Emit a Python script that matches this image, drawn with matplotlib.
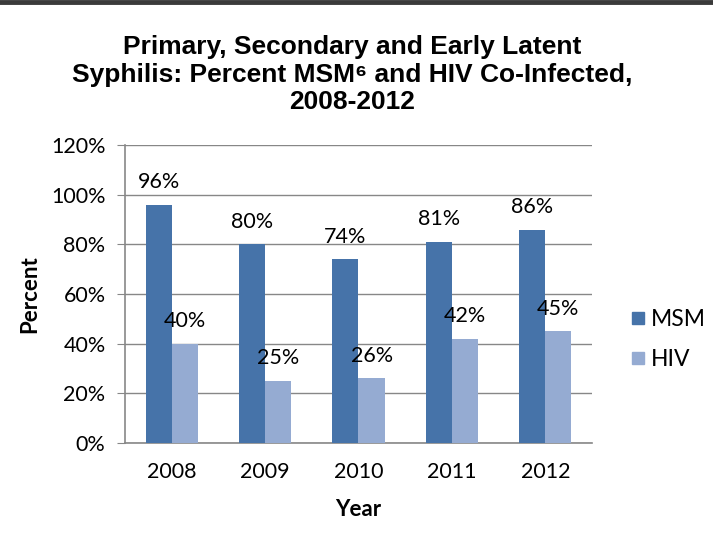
import matplotlib
matplotlib.use("Agg")
import matplotlib.pyplot as plt
import numpy as np
from matplotlib.lines import Line2D
from matplotlib.ticker import PercentFormatter

years = ["2008", "2009", "2010", "2011", "2012"]
msm = [96, 80, 74, 81, 86]
hiv = [40, 25, 26, 42, 45]
series_names = ["MSM", "HIV"]

plt.rcParams['font.family'] = ['Lato', 'DejaVu Sans']

fig = plt.figure(figsize=(7.13, 5.52), dpi=100)
ax = fig.add_axes([0.1753, 0.1975, 0.655, 0.5395])

x = np.arange(len(years))
w = 0.28
c_msm = '#4673A9'
c_hiv = '#95ABD2'
b1 = ax.bar(x - w / 2, msm, w, color=c_msm, label=series_names[0], zorder=3)
b2 = ax.bar(x + w / 2, hiv, w, color=c_hiv, label=series_names[1], zorder=3)

for bars, vals in ((b1, msm), (b2, hiv)):
    for b, v in zip(bars, vals):
        ax.annotate('%d%%' % v, (b.get_x() + b.get_width() / 2, v),
                    xytext=(0, 9), textcoords='offset points',
                    ha='center', va='bottom', fontsize=15.5)

ax.set_xlim(-0.5, len(years) - 0.5)
ax.set_ylim(0, 120)
ax.set_yticks(range(0, 121, 20))
ax.yaxis.set_major_formatter(PercentFormatter(decimals=0))
ax.set_xticks(x)
ax.set_xticklabels(years)
ax.tick_params(axis='y', length=6, color='#878787', labelsize=15.5, pad=8)
ax.tick_params(axis='x', length=0, labelsize=15.5, pad=14)
ax.grid(axis='y', color='#878787', linewidth=1, zorder=0)
for s in ('top', 'right'):
    ax.spines[s].set_visible(False)
for s in ('left', 'bottom'):
    ax.spines[s].set_color('#878787')
    ax.spines[s].set_linewidth(1.2)

ax.set_ylabel('Percent', fontsize=16, fontweight='bold', labelpad=8)
ax.set_xlabel('Year', fontsize=16, fontweight='bold', labelpad=12)

fig.text(0.494, 0.936, 'Primary, Secondary and Early Latent\n'
         'Syphilis: Percent MSM\u2076 and HIV Co-Infected,\n2008-2012',
         ha='center', va='top', fontsize=19, fontweight='bold',
         family=['Liberation Sans', 'DejaVu Sans'], linespacing=1.17)

handles = [Line2D([], [], marker='s', linestyle='none', markersize=9,
                  color=c) for c in (c_msm, c_hiv)]
fig.legend(handles, series_names, loc='center left',
           bbox_to_anchor=(0.85, 0.385), frameon=False, fontsize=16.5,
           handletextpad=0.05, labelspacing=0.85, handlelength=1.0)

fig.add_artist(Line2D([0, 1], [0.9965, 0.9965], color='#3a3a3a',
                      linewidth=3.5, transform=fig.transFigure))

fig.savefig('out.png', dpi=100)
